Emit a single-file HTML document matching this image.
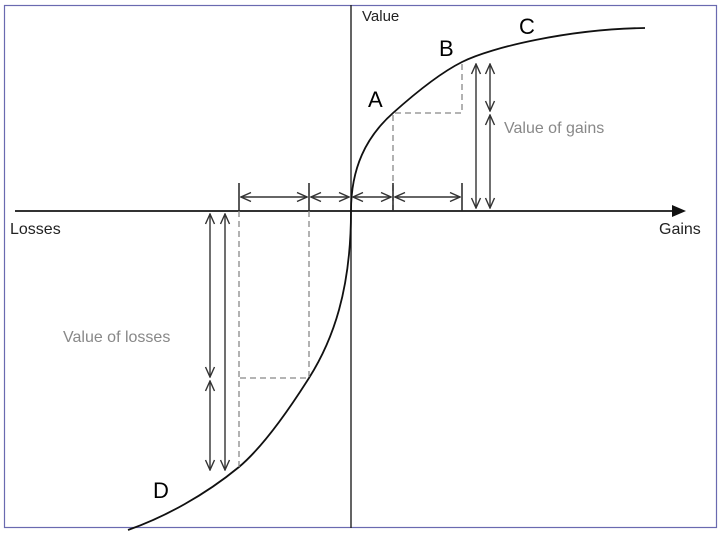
<!DOCTYPE html>
<html><head><meta charset="utf-8"><style>
html,body{margin:0;padding:0;background:#fff;}
svg{display:block;}
text{font-family:"Liberation Sans",sans-serif;}
</style></head><body>
<svg width="722" height="533" viewBox="0 0 722 533" xmlns="http://www.w3.org/2000/svg">
<defs>
<marker id="ch" viewBox="0 0 12 12" refX="11" refY="6" markerWidth="12" markerHeight="12" markerUnits="userSpaceOnUse" orient="auto-start-reverse">
<path d="M1,1.5 L11,6 L1,10.5" fill="none" stroke="#333" stroke-width="1.4"/>
</marker>
</defs>
<rect x="4.5" y="5.5" width="712" height="522" fill="#fff" stroke="#6a6ab0" stroke-width="1.2"/>
<line x1="15" y1="211" x2="675" y2="211" stroke="#333" stroke-width="2"/>
<polygon points="672,205 686,211 672,217" fill="#111"/>
<line x1="351" y1="5" x2="351" y2="528" stroke="#222" stroke-width="1.4"/>
<path d="M351,211 C351,168 366,137 393,113 C412,96 438,74 462,62 C492,47 570,29 645,28" fill="none" stroke="#111" stroke-width="1.8"/>
<path d="M351,211 C351,290 333,340 309,378 C290,408 264,446 239,467 C205,495 165,517 128,530" fill="none" stroke="#111" stroke-width="1.8"/>
<g stroke="#888" stroke-width="1.3" stroke-dasharray="6,4" fill="none">
<path d="M393,211 V113 H462 V62"/>
<path d="M239,211 V467"/>
<path d="M309,211 V378 H239"/>
</g>
<g stroke="#222" stroke-width="1.5">
<line x1="239" y1="183" x2="239" y2="211"/>
<line x1="309" y1="183" x2="309" y2="211"/>
<line x1="393" y1="183" x2="393" y2="211"/>
<line x1="462" y1="183" x2="462" y2="211"/>
</g>
<g stroke="#333" stroke-width="1.4" marker-start="url(#ch)" marker-end="url(#ch)">
<line x1="241" y1="197" x2="307" y2="197"/>
<line x1="311" y1="197" x2="349" y2="197"/>
<line x1="353" y1="197" x2="391" y2="197"/>
<line x1="395" y1="197" x2="460" y2="197"/>
<line x1="476" y1="64" x2="476" y2="208"/>
<line x1="490" y1="64" x2="490" y2="111"/>
<line x1="490" y1="115" x2="490" y2="208"/>
<line x1="225" y1="214" x2="225" y2="470"/>
<line x1="210" y1="214" x2="210" y2="377"/>
<line x1="210" y1="381" x2="210" y2="470"/>
</g>
<text x="362" y="21" font-size="15" fill="#222">Value</text>
<text x="10" y="234" font-size="16" fill="#222">Losses</text>
<text x="659" y="234" font-size="16" fill="#222">Gains</text>
<text x="504" y="133" font-size="16" fill="#888">Value of gains</text>
<text x="63" y="342" font-size="16" fill="#888">Value of losses</text>
<text x="368" y="107" font-size="22" fill="#000">A</text>
<text x="439" y="56" font-size="22" fill="#000">B</text>
<text x="519" y="34" font-size="22" fill="#000">C</text>
<text x="153" y="498" font-size="22" fill="#000">D</text>
</svg>
</body></html>
